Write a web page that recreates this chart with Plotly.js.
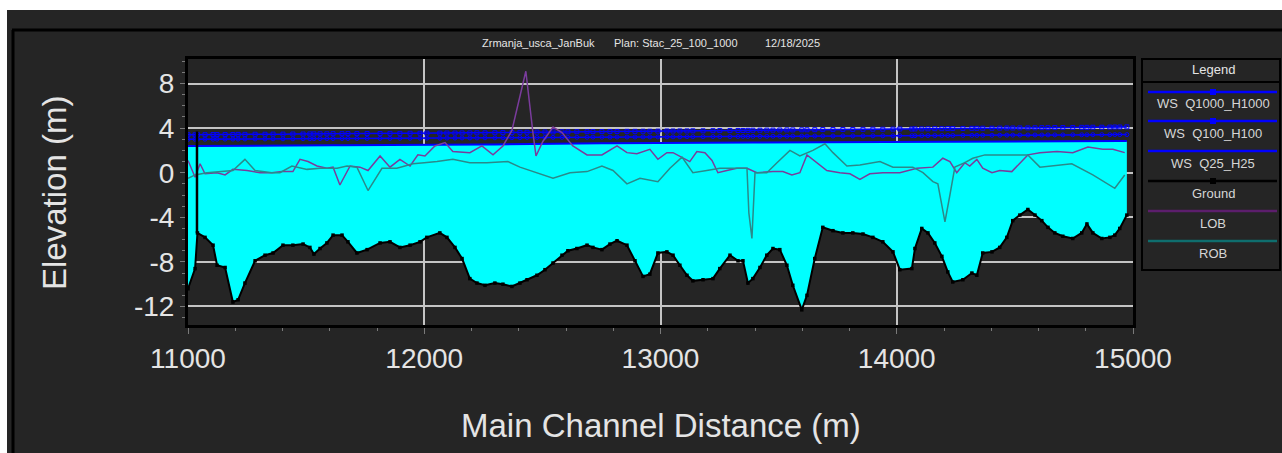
<!DOCTYPE html>
<html>
<head>
<meta charset="utf-8">
<script src="https://cdn.plot.ly/plotly-3.0.1.min.js"></script>
<style>
html,body{margin:0;padding:0;background:#ffffff;}
#chart{width:1282px;height:453px;}
</style>
</head>
<body>
<div id="chart"></div>
<script>
// ---------------- data ----------------
const stations = [11000,11030,11040,11072,11106,11123,11157,11190,11212,11241,
11284,11326,11360,11402,11444,11487,11516,11533,11559,11588,
11614,11652,11677,11715,11758,11813,11855,11897,11940,11982,
12011,12066,12096,12130,12160,12193,12223,12257,12299,12333,
12371,12405,12435,12477,12511,12545,12583,12608,12646,12689,
12714,12752,12786,12816,12858,12892,12926,12955,12989,13027,
13053,13082,13112,13137,13180,13222,13251,13294,13328,13349,
13370,13391,13421,13450,13476,13505,13535,13560,13598,13620,
13653,13687,13730,13772,13814,13857,13899,13941,13984,14013,
14064,14077,14106,14132,14161,14191,14216,14237,14280,14318,
14339,14364,14403,14436,14466,14491,14521,14555,14585,14614,
14640,14669,14703,14745,14783,14805,14830,14868,14902,14923,
14944,14974];

const ground = [-10.4,-8.6,-5.4,-5.8,-6.5,-8.3,-8.5,-11.6,-11.4,-9.9,
-7.9,-7.4,-7.2,-6.5,-6.5,-6.4,-6.7,-7.3,-6.8,-6.3,
-5.6,-5.6,-6.2,-7.2,-6.9,-6.3,-6.2,-6.7,-6.5,-6.2,
-5.8,-5.4,-5.8,-6.7,-7.7,-9.5,-9.9,-10.1,-9.9,-10.0,
-10.2,-9.9,-9.6,-9.2,-8.7,-8.1,-7.4,-7.0,-6.8,-6.5,
-6.7,-6.9,-6.4,-6.1,-6.5,-7.9,-9.3,-9.1,-7.2,-7.1,
-7.4,-8.3,-9.2,-9.7,-9.6,-9.5,-8.6,-7.4,-7.9,-7.9,
-9.9,-9.5,-8.5,-7.4,-6.8,-6.9,-8.3,-10.1,-12.3,-11.0,
-7.7,-4.9,-5.2,-5.4,-5.4,-5.5,-5.8,-6.2,-7.1,-8.7,
-8.6,-6.8,-5.0,-5.4,-6.3,-7.5,-8.9,-9.8,-9.6,-9.0,
-9.2,-7.2,-7.1,-6.7,-5.8,-4.3,-3.8,-3.3,-3.8,-4.3,
-4.9,-5.4,-5.7,-5.9,-5.4,-4.6,-5.4,-5.9,-5.8,-5.6,
-5.0,-3.8];

const wsQ25 = [2.40,2.40,2.40,2.41,2.41,2.41,2.42,2.42,2.42,2.43,
2.43,2.43,2.44,2.44,2.44,2.45,2.45,2.45,2.46,2.46,
2.46,2.47,2.47,2.47,2.48,2.48,2.48,2.49,2.49,2.50,
2.50,2.50,2.51,2.51,2.52,2.52,2.53,2.53,2.54,2.55,
2.56,2.58,2.60,2.61,2.61,2.62,2.62,2.62,2.63,2.63,
2.63,2.64,2.64,2.64,2.65,2.65,2.65,2.66,2.66,2.67,
2.67,2.67,2.68,2.68,2.68,2.69,2.69,2.69,2.70,2.70,
2.70,2.70,2.71,2.71,2.71,2.72,2.72,2.72,2.72,2.73,
2.73,2.73,2.74,2.74,2.74,2.74,2.75,2.75,2.75,2.76,
2.76,2.76,2.76,2.77,2.77,2.77,2.77,2.78,2.78,2.78,
2.78,2.79,2.79,2.79,2.80,2.80,2.80,2.80,2.81,2.81,
2.81,2.81,2.82,2.82,2.82,2.83,2.83,2.83,2.84,2.84,
2.84,2.85];

const wsQ100 = [3.00,3.00,3.00,3.01,3.01,3.01,3.02,3.02,3.02,3.03,
3.03,3.03,3.04,3.04,3.04,3.05,3.05,3.05,3.06,3.06,
3.06,3.07,3.07,3.07,3.08,3.08,3.08,3.09,3.09,3.10,
3.10,3.10,3.11,3.11,3.12,3.12,3.12,3.13,3.13,3.14,
3.14,3.15,3.16,3.16,3.17,3.17,3.17,3.18,3.18,3.18,
3.19,3.19,3.19,3.20,3.20,3.20,3.21,3.21,3.21,3.22,
3.22,3.22,3.23,3.23,3.23,3.24,3.24,3.24,3.25,3.25,
3.25,3.26,3.26,3.26,3.27,3.27,3.27,3.28,3.28,3.28,
3.29,3.29,3.29,3.30,3.30,3.30,3.31,3.31,3.31,3.32,
3.32,3.32,3.33,3.33,3.33,3.34,3.34,3.34,3.35,3.35,
3.35,3.36,3.36,3.36,3.37,3.37,3.37,3.38,3.38,3.38,
3.39,3.39,3.39,3.40,3.40,3.40,3.41,3.41,3.41,3.42,
3.42,3.42];

const wsQ1000 = [3.40,3.40,3.41,3.41,3.42,3.42,3.43,3.43,3.44,3.44,
3.45,3.45,3.46,3.46,3.47,3.47,3.48,3.48,3.49,3.49,
3.50,3.50,3.51,3.51,3.52,3.52,3.53,3.53,3.54,3.54,
3.55,3.55,3.56,3.56,3.57,3.57,3.58,3.58,3.59,3.60,
3.61,3.62,3.63,3.64,3.65,3.66,3.67,3.67,3.68,3.68,
3.69,3.69,3.70,3.70,3.71,3.71,3.72,3.72,3.73,3.74,
3.74,3.75,3.75,3.76,3.76,3.77,3.78,3.78,3.79,3.79,
3.80,3.81,3.81,3.82,3.82,3.83,3.84,3.84,3.85,3.85,
3.86,3.87,3.87,3.88,3.88,3.89,3.90,3.90,3.91,3.92,
3.92,3.93,3.93,3.94,3.95,3.95,3.96,3.96,3.97,3.98,
3.98,3.99,3.99,4.00,4.01,4.01,4.02,4.02,4.03,4.04,
4.04,4.05,4.05,4.06,4.07,4.07,4.08,4.08,4.09,4.10,
4.10,4.11];

const lobStations = [11000,11030,11051,11072,11123,11157,11190,11250,11305,11355,
11398,11444,11474,11508,11546,11588,11614,11643,11686,11728,
11762,11813,11855,11897,11940,11973,12003,12045,12088,12121,
12193,12244,12291,12333,12371,12430,12460,12473,12502,12545,
12583,12629,12689,12752,12816,12858,12900,12955,12989,13027,
13053,13091,13124,13154,13188,13218,13243,13281,13323,13366,
13408,13476,13518,13556,13590,13620,13662,13704,13759,13802,
13844,13886,13941,13984,14013,14085,14153,14195,14225,14254,
14288,14309,14339,14364,14403,14436,14487,14555,14606,14678,
14745,14809,14872,14915,14965];
const lobElev = [1.1,-0.4,0.8,-0.1,0.0,-0.2,0.3,0.2,0.0,0.0,
0.1,0.1,1.2,1.0,0.6,0.4,0.5,-1.1,0.6,0.5,
0.2,1.5,0.5,1.2,0.6,1.6,1.5,2.4,2.7,1.9,
1.8,2.4,1.6,2.4,3.8,9.1,3.6,1.5,2.8,4.1,
3.6,2.4,1.6,1.6,2.4,1.8,1.7,2.1,1.2,1.8,
1.8,1.4,1.0,1.9,1.8,1.1,0.0,0.2,0.4,0.4,
0.0,0.1,0.1,-0.2,0.0,1.6,0.9,0.2,0.0,-0.1,
-0.6,-0.1,0.0,0.0,0.0,0.4,0.5,1.3,1.0,0.0,
0.9,0.6,1.2,0.4,0.0,0.2,0.1,1.6,1.8,1.9,
1.8,2.3,2.1,2.1,1.8];

const robStations = [11000,11030,11080,11135,11190,11241,11284,11355,11389,11440,
11504,11559,11631,11673,11715,11762,11821,11884,11952,12000,
12054,12121,12193,12265,12354,12405,12477,12545,12617,12689,
12752,12799,12858,12913,12989,13040,13091,13137,13196,13251,
13306,13366,13374,13387,13400,13450,13493,13548,13590,13645,
13696,13730,13789,13844,13929,13984,14013,14068,14111,14153,
14174,14204,14225,14246,14288,14322,14373,14436,14555,14606,
14741,14830,14923,14965];
const robElev = [-0.5,-0.2,0.0,0.1,0.2,1.2,0.2,0.0,0.0,0.6,
0.3,0.4,0.4,0.6,0.5,-1.6,0.4,0.4,0.8,0.9,
1.0,1.2,0.9,0.9,1.0,0.5,0.0,-0.5,0.0,0.1,
0.6,0.2,-1.0,-0.5,-0.8,0.4,1.4,0.0,0.2,0.4,
0.4,0.4,-3.6,-5.9,0.0,0.0,0.9,2.0,1.5,2.0,
2.6,1.8,0.6,0.7,1.0,0.5,0.5,0.5,0.0,-0.8,
-1.0,-4.4,-2.0,0.5,0.9,1.3,1.6,1.6,1.6,0.5,
0.8,-0.2,-1.4,-0.2];

const structStation = [11038, 11038];
const structElev = [-5.4, 3.7];

const xTicks = [11000, 12000, 13000, 14000, 15000];
const yTicks = [-12, -8, -4, 0, 4, 8];

const titleParts = ['Zrmanja_usca_JanBuk', 'Plan: Stac_25_100_1000', '12/18/2025'];
const legendNames = ['WS  Q1000_H1000', 'WS  Q100_H100', 'WS  Q25_H25', 'Ground', 'LOB', 'ROB'];

// ---------------- styles ----------------
const BG = '#252525';
const TXT = '#e4e4e4';
const GRID = '#c4c4c4';
const BLUE = '#0000ff';
const CYAN = '#00ffff';
const LOBC = '#7a3c9c';
const ROBC = '#2a8a8a';
const FONT = 'Liberation Sans, Arial, sans-serif';

// page geometry (pixels) -> paper coords helpers
const L = 188, R = 1133, T = 59, B = 325;
const px = x => (x - L) / (R - L);
const py = y => (B - y) / (B - T);

const traces = [
  {x: stations, y: wsQ25, type: 'scatter', mode: 'lines', name: legendNames[2],
   line: {color: BLUE, width: 2}, showlegend: false, hoverinfo: 'skip'},
  {x: stations, y: ground, type: 'scatter', mode: 'lines+markers', name: legendNames[3],
   fill: 'tonexty', fillcolor: CYAN,
   line: {color: '#000000', width: 2}, marker: {symbol: 'square', size: 3.5, color: '#000000'},
   showlegend: false, hoverinfo: 'skip'},
  {x: stations, y: wsQ100, type: 'scatter', mode: 'lines+markers', name: legendNames[1],
   line: {color: BLUE, width: 1.5}, marker: {symbol: 'circle-open', size: 4, color: BLUE, line: {width: 1}},
   showlegend: false, hoverinfo: 'skip'},
  {x: stations, y: wsQ1000, type: 'scatter', mode: 'lines+markers', name: legendNames[0],
   line: {color: BLUE, width: 1.5}, marker: {symbol: 'square-open', size: 4, color: BLUE, line: {width: 1}},
   showlegend: false, hoverinfo: 'skip'},
  {x: lobStations, y: lobElev, type: 'scatter', mode: 'lines', name: legendNames[4],
   line: {color: LOBC, width: 1.5}, showlegend: false, hoverinfo: 'skip'},
  {x: robStations, y: robElev, type: 'scatter', mode: 'lines', name: legendNames[5],
   line: {color: ROBC, width: 1.5}, showlegend: false, hoverinfo: 'skip'},
  {x: structStation, y: structElev, type: 'scatter', mode: 'lines',
   line: {color: '#000000', width: 2.5}, showlegend: false, hoverinfo: 'skip'}
];

// ---------------- frame, legend (shapes + annotations) ----------------
const shapes = [
  {type: 'rect', xref: 'paper', yref: 'paper', x0: px(0), x1: px(1282), y0: py(10), y1: py(0),
   fillcolor: '#ffffff', line: {width: 0}},
  {type: 'rect', xref: 'paper', yref: 'paper', x0: px(0), x1: px(7), y0: py(453), y1: py(0),
   fillcolor: '#ffffff', line: {width: 0}},
  {type: 'line', xref: 'paper', yref: 'paper', x0: px(12), x1: px(1282), y0: py(30), y1: py(30),
   line: {color: '#000000', width: 3}},
  {type: 'line', xref: 'paper', yref: 'paper', x0: px(13), x1: px(13), y0: py(30), y1: py(453),
   line: {color: '#000000', width: 3}},
  {type: 'rect', xref: 'paper', yref: 'paper', x0: px(1142), x1: px(1280), y0: py(270), y1: py(59),
   fillcolor: BG, line: {color: '#000000', width: 2}},
  {type: 'line', xref: 'paper', yref: 'paper', x0: px(1142), x1: px(1280), y0: py(82), y1: py(82),
   line: {color: '#000000', width: 2}}
];

const legendLineY = [92, 121, 151, 181, 211, 241];
const legendTextY = [103, 133, 163, 193, 223, 254];
const legendColors = [BLUE, BLUE, BLUE, '#000000', '#5c1e6c', '#0f6e6e'];
const legendMarker = [true, true, false, true, false, false];
legendLineY.forEach((yy, i) => {
  shapes.push({type: 'line', xref: 'paper', yref: 'paper', x0: px(1148), x1: px(1277),
    y0: py(yy), y1: py(yy), line: {color: legendColors[i], width: 2.5}});
  if (legendMarker[i]) {
    shapes.push({type: 'rect', xref: 'paper', yref: 'paper', x0: px(1210), x1: px(1216),
      y0: py(yy + 3), y1: py(yy - 3), fillcolor: legendColors[i], line: {width: 0}});
  }
});

const annotations = [];
const titleX = [480, 612, 763];
titleParts.forEach((t, i) => {
  annotations.push({text: t, xref: 'paper', yref: 'paper', x: px(titleX[i]), y: py(43),
    xanchor: 'left', yanchor: 'middle', showarrow: false,
    font: {family: FONT, size: 11, color: TXT}});
});
annotations.push({text: 'Legend', xref: 'paper', yref: 'paper', x: px(1213), y: py(69),
  xanchor: 'center', yanchor: 'middle', showarrow: false,
  font: {family: FONT, size: 13, color: TXT}});
legendNames.forEach((t, i) => {
  annotations.push({text: t, xref: 'paper', yref: 'paper', x: px(1213), y: py(legendTextY[i]),
    xanchor: 'center', yanchor: 'middle', showarrow: false,
    font: {family: FONT, size: 13, color: '#d6d6d6'}});
});
annotations.push({text: 'Elevation (m)', xref: 'paper', yref: 'paper', x: px(54), y: py(193),
  xanchor: 'center', yanchor: 'middle', textangle: -90, showarrow: false,
  font: {family: FONT, size: 33, color: TXT}});
annotations.push({text: 'Main Channel Distance (m)', xref: 'paper', yref: 'paper', x: px(661), y: py(425),
  xanchor: 'center', yanchor: 'middle', showarrow: false,
  font: {family: FONT, size: 33, color: TXT}});

const layout = {
  width: 1282, height: 453,
  margin: {l: L, r: 1282 - R, t: T, b: 453 - B, pad: 0},
  paper_bgcolor: BG, plot_bgcolor: BG,
  showlegend: false,
  font: {family: FONT, color: TXT},
  xaxis: {
    range: [11000, 15000], tickvals: xTicks, ticktext: xTicks.map(String),
    showgrid: true, gridcolor: GRID, gridwidth: 2, zeroline: false,
    showline: true, linecolor: '#000000', linewidth: 3, mirror: true,
    ticks: 'outside', ticklen: 6, tickcolor: '#7a7a7a', tickwidth: 1,
    ticklabelstandoff: 0,
    minor: {dtick: 200, tick0: 11000, ticks: 'outside', ticklen: 3, tickcolor: '#7a7a7a', showgrid: false},
    tickfont: {family: FONT, size: 28, color: TXT}
  },
  yaxis: {
    range: [-13.66, 10.2], tickvals: yTicks, ticktext: yTicks.map(String),
    showgrid: true, gridcolor: GRID, gridwidth: 2, zeroline: false,
    showline: true, linecolor: '#000000', linewidth: 3, mirror: true,
    ticks: 'outside', ticklen: 5, tickcolor: '#7a7a7a', tickwidth: 1,
    ticklabelstandoff: 0,
    minor: {dtick: 1, tick0: 0, ticks: 'outside', ticklen: 3, tickcolor: '#7a7a7a', showgrid: false},
    tickfont: {family: FONT, size: 28, color: TXT}
  },
  shapes: shapes,
  annotations: annotations
};

Plotly.newPlot('chart', traces, layout, {displayModeBar: false, staticPlot: true});
</script>
</body>
</html>
